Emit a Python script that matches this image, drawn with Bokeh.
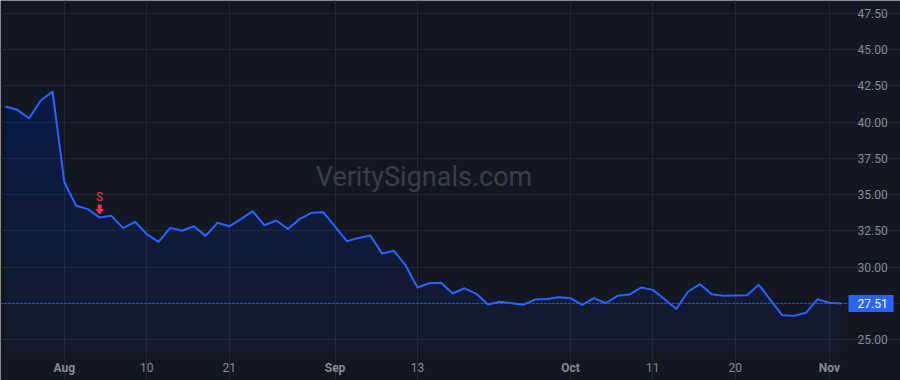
import numpy as np
import pandas as pd
from bokeh.plotting import figure
from bokeh.models import Range1d, FixedTicker
from bokeh.core.properties import value
from bokeh.embed import file_html
from bokeh.resources import INLINE

# ---------------- data ----------------
dates = [d for d in pd.bdate_range("2023-07-25", "2023-11-02") if d != pd.Timestamp("2023-09-04")]
close = [41.07, 40.84, 40.26, 41.48, 42.10, 35.85, 34.23, 34.00, 33.42, 33.54,
         32.69, 33.13, 32.28, 31.75, 32.71, 32.51, 32.82, 32.16, 33.06, 32.82,
         33.31, 33.86, 32.89, 33.22, 32.63, 33.33, 33.75, 33.79, 32.80, 31.79,
         32.02, 32.18, 30.94, 31.13, 30.12, 28.60, 28.90, 28.93, 28.19, 28.55,
         28.17, 27.43, 27.62, 27.52, 27.41, 27.78, 27.82, 27.93, 27.87, 27.40,
         27.87, 27.52, 28.03, 28.12, 28.60, 28.44, 27.79, 27.13, 28.33, 28.83,
         28.14, 28.03, 28.05, 28.07, 28.79, 27.74, 26.69, 26.65, 26.86, 27.80,
         27.55, 27.51]
signal_dates = ["2023-08-04"]
signal_labels = ["S"]
tick_dates = ["2023-08-01", "2023-08-10", "2023-08-21", "2023-09-01", "2023-09-13",
              "2023-10-02", "2023-10-11", "2023-10-20", "2023-11-01"]
tick_labels = ["Aug", "10", "21", "Sep", "13", "Oct", "11", "20", "Nov"]
month_labels = {"Aug", "Sep", "Oct", "Nov"}
y_ticks = [25.0, 27.5, 30.0, 32.5, 35.0, 37.5, 40.0, 42.5, 45.0, 47.5]
watermark = "VeritySignals.com"

# ---------------- style ----------------
BG = "#131722"
GRID = "#242833"
BLUE = "#2962ff"
RED = "#f23645"
TXT = "#878a93"
FONT = "Roboto"
W, H = 900, 380

idx = np.arange(len(close))
close_arr = np.array(close)
date_pos = {d.strftime("%Y-%m-%d"): i for i, d in enumerate(dates)}
tick_idx = [date_pos[d] for d in tick_dates]
sig_idx = [date_pos[d] for d in signal_dates]

# pane (plot area) bounds in data units; the frame also covers the price-scale strip
px_bar = 11.77                     # pixels per bar
px_unit = 14.52                    # pixels per price unit
xa0 = -0.425                       # left edge of the pane
xa1 = xa0 + 847 / px_bar           # right edge of the pane (price scale to the right)
ya1 = 48.37                        # top of the pane
ya0 = ya1 - 352 / px_unit          # bottom of the pane (time scale below)
x_end = xa0 + W / px_bar
y_start = ya1 - H / px_unit
pxx = 1 / px_bar
ppx = 1 / px_unit

p = figure(width=W, height=H, x_range=Range1d(xa0, x_end), y_range=Range1d(y_start, ya1),
           output_backend="svg", toolbar_location=None,
           background_fill_color=BG, border_fill_color=BG, outline_line_color=None,
           min_border=0)
p.axis.visible = False

# grid limited to the pane
p.xgrid.ticker = FixedTicker(ticks=tick_idx)
p.ygrid.ticker = FixedTicker(ticks=y_ticks)
p.xgrid.bounds = (ya0, ya1)
p.ygrid.bounds = (xa0, xa1)
p.grid.grid_line_color = GRID
p.grid.grid_line_width = 1

# watermark
p.text(x=[(xa0 + xa1) / 2], y=[(ya0 + ya1) / 2], text=[watermark], text_font=value(FONT),
       text_font_size="27px", text_color="#393d49", text_align="center", text_baseline="middle")

# gradient-like area fill
p.varea(x=idx, y1=ya0, y2=close_arr, fill_color=BLUE, fill_alpha=0.055)
for t in np.linspace(26, 42, 12):
    p.varea(x=idx, y1=t, y2=np.maximum(close_arr, t), fill_color=BLUE, fill_alpha=0.013)

# price line + last price dashed line
p.line(idx, close_arr, line_color=BLUE, line_width=2, line_join="round")
p.line([xa0, xa1], [close[-1], close[-1]], line_color=BLUE, line_dash="2 2", line_width=1)

# signal marker: "S" above a down arrow
sx = np.array(sig_idx, dtype=float)
sy = close_arr[sig_idx]
p.text(x=sx, y=sy, text=signal_labels, y_offset=-21, text_color=RED, text_font=value(FONT),
       text_font_size="12px", text_align="center", text_baseline="middle")
p.rect(x=sx, y=sy + 10.5 * ppx, width=4, height=5, width_units="screen",
       height_units="screen", fill_color=RED, line_color=None)
for xx, yy in zip(sx, sy):
    p.patch(x=[xx - 4.5 * pxx, xx + 4.5 * pxx, xx],
            y=[yy + 8.5 * ppx, yy + 8.5 * ppx, yy + 3 * ppx],
            fill_color=RED, line_color=None)

# price scale (right)
p.text(x=[xa1] * len(y_ticks), y=y_ticks, text=[f"{v:.2f}" for v in y_ticks], x_offset=10,
       text_align="left", text_baseline="middle", text_color=TXT, text_font=value(FONT),
       text_font_size="12px")
# last price tag
p.rect(x=[xa1 + 23.5 * pxx], y=[close[-1]], width=45, height=17, width_units="screen",
       height_units="screen", fill_color=BLUE, line_color=None)
p.text(x=[xa1], y=[close[-1]], text=[f"{close[-1]:.2f}"], x_offset=10, text_align="left",
       text_baseline="middle", text_color="white", text_font=value(FONT), text_font_size="12px")

# time scale (bottom)
for bold in (False, True):
    xs = [i for i, lab in zip(tick_idx, tick_labels) if (lab in month_labels) == bold]
    labs = [lab for lab in tick_labels if (lab in month_labels) == bold]
    p.text(x=xs, y=[ya0] * len(xs), text=labs, y_offset=15, text_align="center",
           text_baseline="middle", text_color=TXT, text_font=value(FONT), text_font_size="12px",
           text_font_style="bold" if bold else "normal")

open("out.html", "w").write(file_html(p, INLINE))
